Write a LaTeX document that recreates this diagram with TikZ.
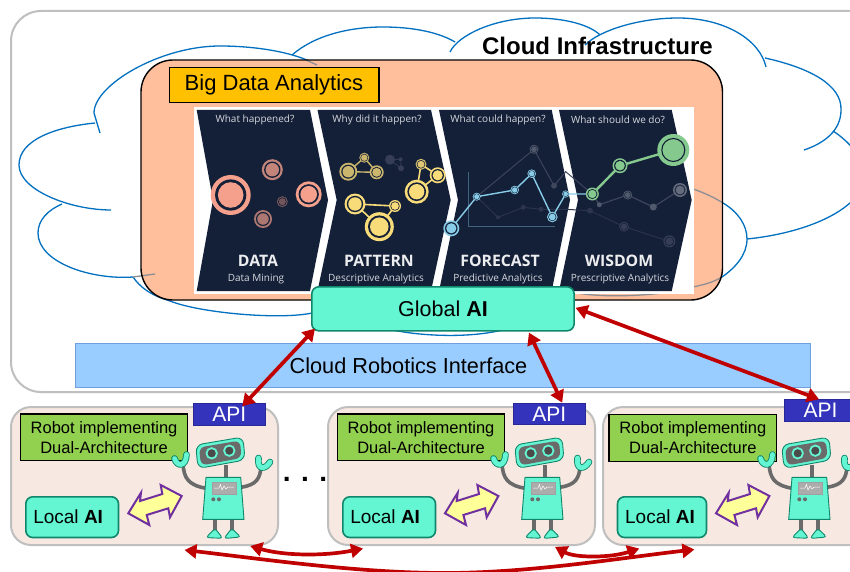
\documentclass[tikz,border=0pt]{standalone}
\usepackage{fontspec}
\setmainfont{Liberation Sans}
\newfontfamily\chevfont{Open Sans}
\usetikzlibrary{arrows.meta}
\definecolor{navyc}{HTML}{141F38}
\definecolor{salmonc}{HTML}{F4A08C}
\definecolor{yellowc}{HTML}{F9DC7A}
\definecolor{bluec}{HTML}{88CCE8}
\definecolor{greenc}{HTML}{85C98E}
\definecolor{tealc}{HTML}{64F6D2}
\definecolor{tealline}{HTML}{10876C}
\definecolor{panelc}{HTML}{F7E9E1}
\definecolor{grayline}{HTML}{BFBFBF}
\definecolor{cloudc}{HTML}{0070C0}
\definecolor{redc}{HTML}{C00000}
\definecolor{ashc}{HTML}{8D8F95}
\definecolor{chevtext}{HTML}{D5D8DE}
\definecolor{purplec}{HTML}{7030A0}
\definecolor{robotgray}{HTML}{6A6A6A}
\newcommand{\pxfont}[1]{\fontsize{#1}{#1}\selectfont}
\newcommand{\ring}[4]{%
  \fill[#4] (#1,#2) circle[radius=#3];
  \fill[navyc] (#1,#2) circle[radius=#3*0.78];
  \fill[#4] (#1,#2) circle[radius=#3*0.64];}
\newcommand{\robotfig}[1]{%
\begin{scope}[xshift=#1pt]
  \draw[line width=3.6,color=robotgray,line cap=round] (206,488.3) .. controls (188,485) and (184,478) .. (183,464);
  \draw[line width=3.6,color=robotgray,line cap=round] (240.7,487.3) .. controls (257,485) and (260,478) .. (261,467);
  \draw[line width=3.6,color=robotgray] (225.7,465) -- (225.7,478);
  \draw[line width=3.6,color=robotgray] (215,519) -- (215,531);
  \draw[line width=3.6,color=robotgray] (231.7,519) -- (231.7,531);
  \draw[robotpart,rounded corners=3] (215,528.3) -- (222.7,538.3) -- (206,537.6) -- cycle;
  \draw[robotpart,rounded corners=3] (231.7,528.3) -- (240.7,537) -- (224,538.5) -- cycle;
  \draw[robotpart] (206,477.3) -- (240.7,477.3) -- (244,519.3) -- (202.7,519.3) -- cycle;
  \draw[fill=gray!65,draw=gray!75] (212.3,481.7) rectangle (235.7,494);
  \draw[white,line width=.5] (214,488) -- (219,488) -- (220.5,484.5) -- (222,490) -- (224,486) -- (226,489) -- (228,487) -- (234,487);
  \fill[robotgray] (213.3,499.3) circle[radius=2];
  \fill[robotgray] (219,499.3) circle[radius=2];
  \draw[robotpart,rounded corners=7] (195.7,445) -- (243,437) -- (245,460) -- (198,468.5) -- cycle;
  \fill[robotgray,rounded corners=6] (199,447.5) -- (240,440.5) -- (241.5,458) -- (201,465.5) -- cycle;
  \draw[tealc,fill=robotgray!70!black,line width=1.8] (211.7,453.3) circle[radius=5.2];
  \draw[tealc,fill=robotgray!70!black,line width=1.8] (229.3,450.7) circle[radius=5.2];
  \draw[tealline,line width=6.6,line cap=round] (174.5,458.5) .. controls (177,467) and (186,467) .. (186.5,454.5);
  \draw[tealc,line width=4.8,line cap=round] (174.5,458.5) .. controls (177,467) and (186,467) .. (186.5,454.5);
  \draw[tealline,line width=6.6,line cap=round] (258.5,458) .. controls (257,470) and (265,470) .. (270,462);
  \draw[tealc,line width=4.8,line cap=round] (258.5,458) .. controls (257,470) and (265,470) .. (270,462);
\end{scope}}
\newcommand{\swaparrow}[1]{%
  \draw[xshift=#1pt,swapfill,draw=purplec,line width=2,line join=miter]
   (128.3,513.3) -- (141,492.7) -- (140,501) -- (162.3,494) -- (160.7,485) -- (181.7,496) -- (170,517.3) -- (168.3,508.3) -- (146.7,515) -- (149.3,525) -- cycle;}
\tikzset{
  robotpart/.style={fill=tealc,draw=tealline,line width=.9},
  swapfill/.style={fill={rgb,255:red,255;green,255;blue,153}},
  cloudline/.style={draw=cloudc,line width=1.3},
  ashline/.style={draw=ashc,line width=1.3},
  panelbox/.style={anchor=north west,inner sep=0,fill=panelc,draw=grayline,line width=2,rounded corners=20},
  labelbox/.style={anchor=north west,inner sep=0,fill={rgb,255:red,146;green,208;blue,80},draw=black,line width=1.4,align=center,font=\pxfont{16.5}},
  apibox/.style={anchor=north west,inner sep=0,fill={rgb,255:red,51;green,51;blue,187},draw={rgb,255:red,40;green,40;blue,150},line width=1,text=white,font=\pxfont{21},minimum width=72,minimum height=21.5},
  aibox/.style={anchor=north west,inner sep=0,fill=tealc,draw=tealline,line width=1.6,rounded corners=7},
  linkarrow/.style={draw=redc,line width=3.7,{Triangle[length=12,width=14]}-{Triangle[length=12,width=14]}},
  chevronshape/.style={fill=navyc},
  qtext/.style={text=chevtext,font=\chevfont\pxfont{10}},
  titletext/.style={text=white!92!navyc,font=\chevfont\bfseries\pxfont{15.8}},
  subtext/.style={text=chevtext,font=\chevfont\pxfont{10}},
}
\begin{document}
\begin{tikzpicture}[x=1pt,y=-1pt]
\useasboundingbox (0,0) rectangle (850,572);
\clip (0,0) rectangle (850,572);
\fill[white] (0,0) rectangle (850,572);
% cloud infrastructure panel
\node[anchor=north west,inner sep=0,draw=grayline,line width=2,rounded corners=30,fill=white,minimum width=870,minimum height=381] (infra) at (10,10) {};
% cloud outline
\draw[cloudline] (100,133) -- (94,113) .. controls (94,85) and (160,46) .. (220,46) .. controls (255,46) and (295,52) .. (317,65);
\draw[cloudline] (292,55) .. controls (315,35) and (350,27) .. (383,27) .. controls (415,27) and (440,33) .. (455,42);
\draw[cloudline] (450,52) .. controls (458,35) and (495,18) .. (535,18) .. controls (565,18) and (590,25) .. (600,35);
\draw[cloudline] (585,45) .. controls (600,30) and (640,18) .. (678,18) .. controls (725,18) and (760,40) .. (766,67);
\draw[cloudline] (765,58) .. controls (810,68) and (842,85) .. (841,110) .. controls (841,130) and (825,143) .. (804,150);
\draw[cloudline] (833,131) .. controls (850,142) and (865,160) .. (865,175) .. controls (865,205) and (815,232) .. (747,239);
\draw[cloudline] (723,203) .. controls (738,212) and (747,225) .. (747,239) .. controls (747,255) and (735,268) .. (722,277);
\draw[cloudline] (95,123) .. controls (55,127) and (19,140) .. (19,165) .. controls (19,190) and (70,210) .. (111,210);
\draw[cloudline] (62,204) .. controls (48,210) and (38,220) .. (38,233) .. controls (38,262) and (90,280) .. (133,277);
\draw[cloudline] (133,277) .. controls (140,287) and (150,295) .. (170,301) .. controls (200,313) and (280,320) .. (312,313);
\draw[cloudline] (393,330) .. controls (415,335) and (470,340) .. (510,328);
% big data panel
\node[anchor=north west,inner sep=0,fill={rgb,255:red,255;green,190;blue,156},minimum width=581.5,minimum height=240,rounded corners=32] (bigdata) at (141,60) {};
\draw[ashline] (306,60) -- (317,65);
\draw[ashline] (133,277) -- (155,274);
\draw[ashline] (693,189) .. controls (705,193) and (715,198) .. (723,203);
\draw[ashline] (722,277) .. controls (712,283) and (702,285) .. (693,287) .. controls (670,295) and (600,300) .. (568,291);
\draw[black,line width=1.4,rounded corners=32] (141,60) rectangle (722.5,300);
\node[anchor=north west,inner sep=0,fill={rgb,255:red,255;green,192;blue,0},draw=black,line width=1.5,minimum width=209.5,minimum height=35,font=\pxfont{22}] (bdlabel) at (168.5,67) {Big Data Analytics};
% infographic
\fill[white] (194,107.3) rectangle (694,293.5);
\fill[chevronshape] (196.7,110) -- (310,110) -- (328,200) -- (310,291) -- (196.7,291) -- (213,200) -- cycle;
\fill[chevronshape] (317.5,110) -- (431,110) -- (450.7,200) -- (431,291) -- (317.5,291) -- (336.7,200) -- cycle;
\fill[chevronshape] (439,110) -- (551.7,110) -- (570,200) -- (551.7,291) -- (439,291) -- (458,200) -- cycle;
\fill[chevronshape] (559,110) -- (671.7,110) -- (691.7,200) -- (671.7,291) -- (559,291) -- (578,200) -- cycle;
% data circles
\ring{230.7}{195}{20}{salmonc}
\ring{272.3}{169.7}{10.5}{salmonc!78!navyc}
\ring{308.7}{194.3}{13}{salmonc}
\ring{263}{219}{9}{salmonc!68!navyc}
\ring{282.3}{201.7}{5.5}{salmonc!42!navyc}
% pattern circles
\draw[yellowc,line width=1.6] (355,204) -- (395,206) -- (379.3,226.7) -- cycle;
\draw[yellowc,line width=1.6] (416.7,191.7) -- (421,164.3) -- (437.7,175.3) -- cycle;
\draw[yellowc!80!navyc,line width=1.4] (348.3,171.7) -- (364.3,157.7) -- (376.7,172.3) -- cycle;
\draw[white!13!navyc,line width=.8] (390,159.7) -- (400.7,159.3) -- (401,168.3) -- cycle;
\ring{355}{204}{10.5}{yellowc}
\ring{395}{206}{6}{yellowc}
\ring{379.3}{226.7}{14.5}{yellowc}
\ring{416.7}{191.7}{12}{yellowc}
\ring{421}{164.3}{5.5}{yellowc!88!navyc}
\ring{437.7}{175.3}{8}{yellowc}
\ring{348.3}{171.7}{9}{yellowc!80!navyc}
\ring{364.3}{157.7}{5}{yellowc!80!navyc}
\ring{376.7}{172.3}{7}{yellowc!80!navyc}
\fill[white!14!navyc] (390,159.7) circle[radius=5];
\fill[white!14!navyc] (400.7,159.3) circle[radius=2];
\fill[white!14!navyc] (401,168.3) circle[radius=3];
% forecast axes and background lines
\draw[color=bluec!40!navyc,line width=.8] (468.3,171.7) -- (468.3,226.7) -- (555,226.7);
\draw[color=white!17!navyc,line width=1] (476.7,196.7) -- (534,149.3) -- (554,185.7) -- (565.7,171.7) -- (592.3,194);
\draw[color=white!9!navyc,line width=1] (476.7,196.7) -- (498,217.3) -- (523.3,207.3) -- (541,209.3) -- (565.7,209.3) -- (590,210.7) -- (624,226.7) -- (669.3,241.3);
\draw[color=white!17!navyc,line width=1.2] (592.3,194) -- (599.3,204.7) -- (627.7,195) -- (653.3,207) -- (680,190);
\ring{534}{149.3}{4.5}{white!26!navyc}
\fill[white!18!navyc] (554,185.7) circle[radius=3];
\fill[white!10!navyc] (498,217.3) circle[radius=2];
\fill[white!10!navyc] (523.3,207.3) circle[radius=2.5];
\fill[white!10!navyc] (541,209.3) circle[radius=2.5];
\fill[white!10!navyc] (590,210.7) circle[radius=3];
\ring{624}{226.7}{5}{white!14!navyc}
\ring{669.3}{241.3}{6}{white!14!navyc}
\fill[white!26!navyc] (599.3,204.7) circle[radius=2.5];
\ring{627.7}{195}{4.5}{white!26!navyc}
\fill[white!26!navyc] (653.3,207) circle[radius=3.5];
\ring{680}{190}{7}{white!34!navyc}
% forecast line
\draw[bluec,line width=1.4] (451.3,228.3) -- (476.7,196.7) -- (514.7,190) -- (531.7,173.7) -- (552.3,217) -- (565.7,194) -- (592.3,194);
\ring{451.3}{228.3}{8}{bluec}
\ring{476.7}{196.7}{4}{bluec}
\ring{514.7}{190}{4.3}{bluec}
\ring{531.7}{173.7}{4.3}{bluec}
\ring{552.3}{217}{5.3}{bluec}
\ring{565.7}{194}{3.6}{bluec}
% wisdom line
\draw[greenc,line width=2.4] (592.3,194) -- (620,165.7) -- (673.3,150);
\ring{592.3}{194}{6.5}{greenc}
\ring{620}{165.7}{7.5}{greenc}
\fill[greenc] (673.3,150) circle[radius=16];
\draw[navyc,line width=1.1] (673.3,150) circle[radius=11.5];
% infographic text
\node[qtext] (q1) at (255,120) {What happened?};
\node[qtext] (q2) at (377,120) {Why did it happen?};
\node[qtext] (q3) at (498,120) {What could happen?};
\node[qtext] (q4) at (618,120) {What should we do?};
\node[titletext] (t1) at (258,261) {DATA};
\node[titletext] (t2) at (379,261) {PATTERN};
\node[titletext] (t3) at (500,261) {FORECAST};
\node[titletext] (t4) at (619,261) {WISDOM};
\node[subtext] (s1) at (256,279) {Data Mining};
\node[subtext] (s2) at (376,279) {Descriptive Analytics};
\node[subtext] (s3) at (498,279) {Predictive Analytics};
\node[subtext] (s4) at (620,279) {Prescriptive Analytics};
% title
\node[font=\bfseries\pxfont{24}] (cloudtitle) at (597.5,45.5) {Cloud Infrastructure};
% interface bar
\node[anchor=north west,inner sep=0,fill={rgb,255:red,153;green,204;blue,255},draw={rgb,255:red,111;green,159;blue,221},line width=1,minimum width=735,minimum height=44] (ifacebar) at (75,342.7) {};
\node[font=\pxfont{21.7}] (ifacetext) at (408.5,365.5) {Cloud Robotics Interface};
% global AI
\node[aibox,minimum width=262.3,minimum height=44,font=\pxfont{21.5}] (global) at (311,286) {Global \textbf{AI}};
% robot panels
\node[panelbox,minimum width=267,minimum height=138] (panel1) at (10,406) {};
\node[panelbox,minimum width=267,minimum height=138] (panel2) at (327,406) {};
\node[panelbox,minimum width=266,minimum height=138] (panel3) at (602,406) {};
% robots
\swaparrow{0}\swaparrow{316.7}\swaparrow{587.7}
\node[labelbox,minimum width=166.7,minimum height=46.7] (label1) at (20,413.3) {Robot implementing\\[3.6pt]Dual-Architecture};
\node[labelbox,minimum width=167.3,minimum height=46.7] (label2) at (336.7,413.3) {Robot implementing\\[3.6pt]Dual-Architecture};
\node[labelbox,minimum width=167.7,minimum height=47] (label3) at (608.3,413.5) {Robot implementing\\[3.6pt]Dual-Architecture};
\robotfig{0}\robotfig{319}\robotfig{586}
\node[aibox,minimum width=92.7,minimum height=40.7,font=\pxfont{19}] (local1) at (25,496) {Local \textbf{AI}\rule{8pt}{0pt}};
\node[aibox,minimum width=92.7,minimum height=40.7,font=\pxfont{19}] (local2) at (342,496) {Local \textbf{AI}\rule{8pt}{0pt}};
\node[aibox,minimum width=89,minimum height=40.7,font=\pxfont{19}] (local3) at (616.7,496) {Local \textbf{AI}\rule{4pt}{0pt}};
\node[apibox] (api1) at (192.7,403.3) {API};
\node[apibox] (api2) at (512.7,402.7) {API};
\node[apibox] (api3) at (784,399.3) {API};
\node[anchor=base,inner sep=0,font=\bfseries\pxfont{28}] (dots) at (305,481.5) {. . .};
% links
\draw[linkarrow] ([xshift=4,yshift=3]global.south west) -- ([xshift=13,yshift=-3]api1.north);
\draw[linkarrow] ([xshift=86,yshift=-1]global.south) -- ([xshift=13,yshift=0]api2.north);
\draw[linkarrow] ([xshift=.7,yshift=1]global.east) -- ([xshift=-1.5]api3.north);
\draw[linkarrow] ([xshift=40,yshift=-4]panel1.south) .. controls (270,560) and (360,573) .. (445,573) .. controls (530,573) and (620,558) .. ([xshift=-41.6,yshift=-3.5]panel3.south);
\draw[linkarrow] ([xshift=105.7]panel1.south) .. controls (285,556) and (325,556) .. ([xshift=-98.5,yshift=-2.5]panel2.south);
\draw[linkarrow] ([xshift=93.5,yshift=-.8]panel2.south) .. controls (575,558) and (610,558) .. ([xshift=-96.7,yshift=-2.5]panel3.south);
\end{tikzpicture}
\end{document}
